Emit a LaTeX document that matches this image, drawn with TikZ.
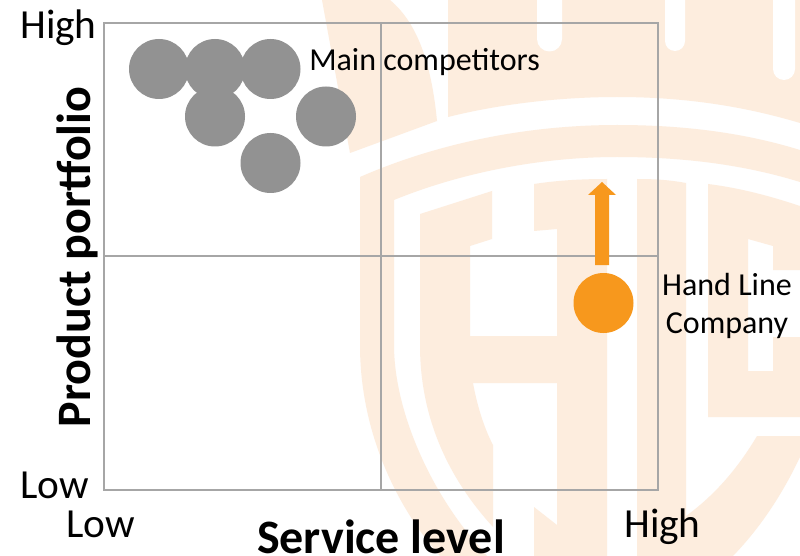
\documentclass[tikz,border=0pt]{standalone}
\usepackage{fontspec}
\setmainfont{Carlito}
\definecolor{wm}{HTML}{FDEDDE}
\definecolor{gridc}{HTML}{A6A6A6}
\definecolor{dotc}{HTML}{929292}
\definecolor{hl}{HTML}{F7981D}
\tikzset{
  gridline/.style={draw=gridc,line width=1.5pt*0.75},
  rival/.style={circle,fill=dotc,minimum size=45pt,inner sep=0pt},
  own/.style={circle,fill=hl,minimum size=45pt,inner sep=0pt},
  lbl/.style={inner sep=0pt,font=\fontsize{24pt}{28pt}\selectfont,text=black},
  tick/.style={inner sep=0pt,font=\fontsize{31pt}{34pt}\selectfont,text=black},
  axis/.style={inner sep=0pt,font=\fontsize{36pt}{40pt}\selectfont\bfseries,text=black},
  wmk/.style={fill=wm,draw=none},
  wht/.style={fill=white,draw=none}
}
\begin{document}
\begin{tikzpicture}[x=0.75pt,y=-0.75pt]
\useasboundingbox (0,0) rectangle (800,556);
\fill[white] (0,0) rectangle (800,556);
% watermark
\fill[wmk] (322,0) -- (350,153) -- (437,121) .. controls (432,70) and (420,25) .. (390,0) -- cycle;
\fill[wmk] (448,0) -- (448,117) .. controls (500,104) and (560,97) .. (617,97) .. controls (680,97) and (740,105) .. (800,123) -- (800,0) -- cycle;
\fill[wht] (537,0) -- (537,39) arc[start angle=180,end angle=0,radius=12.5] -- (562,0) -- cycle;
\fill[wht] (665,0) -- (665,41) arc[start angle=180,end angle=0,radius=10] -- (685,0) -- cycle;
\fill[wht] (773,0) -- (773,69) arc[start angle=180,end angle=0,radius=11] -- (795,0) -- cycle;
% shield ring
\fill[wmk] (360,177) .. controls (440,142) and (530,125) .. (617,125) .. controls (685,125) and (745,133) .. (800,150) -- (800,182) .. controls (745,165) and (685,157) .. (617,157) .. controls (540,157) and (460,173) .. (394,200) -- (394,345) .. controls (394,400) and (420,470) .. (463,527) -- (487,556) -- (440,556) .. controls (395,505) and (360,430) .. (360,345) -- cycle;
% H
\fill[wmk] (420,214) -- (492,191) -- (492,239) -- (470,246) -- (470,336) -- (557,336) -- (557,229) -- (534,231) -- (534,184) .. controls (560,180) and (585,179) .. (607,179) -- (607,556) -- (534,556) -- (534,507) -- (557,525) -- (557,383) -- (473,383) .. controls (477,405) and (484,428) .. (493,445) -- (493,527) .. controls (450,480) and (420,420) .. (420,345) -- cycle;
% column
\fill[wmk] (637,179) .. controls (655,179) and (670,180) .. (686,183) -- (686,556) -- (637,556) -- cycle;
% G
\fill[wmk] (708,184) .. controls (740,188) and (770,196) .. (800,206) -- (800,270) -- (773,270) -- (773,246) -- (748,239) -- (748,371) -- (773,371) -- (773,337) -- (800,337) -- (800,417) -- (708,417) -- cycle;
% lower right arc
\fill[wmk] (686,516) .. controls (715,495) and (738,468) .. (757,436) -- (800,436) -- (800,457) .. controls (782,495) and (760,528) .. (733,556) -- (686,556) -- cycle;
% grid
\coordinate (tl) at (104,23);
\coordinate (tr) at (658,23);
\coordinate (bl) at (104,490);
\coordinate (br) at (658,490);
\coordinate (tm) at (381,23);
\coordinate (bm) at (381,490);
\coordinate (lm) at (104,256);
\coordinate (rm) at (658,256);
\draw[gridline] (tl) rectangle (br);
\draw[gridline] (tm) -- (bm);
\draw[gridline] (lm) -- (rm);
% circles
\node[rival] (a) at (159,69) {};
\node[rival] (d) at (215,116.5) {};
\node[rival] (b) at (215,69) {};
\node[rival] (c) at (270.5,69) {};
\node[rival] (e) at (326,116.5) {};
\node[rival] (f) at (270.5,163) {};
\node[own] (own) at (603.5,303) {};
% arrow
\fill[hl] (595,265) -- (595,195) -- (588,195) -- (602,182) -- (616,195) -- (609,195) -- (609,265) -- cycle;
% labels
\node[lbl,anchor=base west] (mc) at (309,71) {Main competitors};
\node[lbl,anchor=base] (hl1) at (727,296) {Hand Line};
\node[lbl,anchor=base] (hl2) at (727,333) {Company};
\node[tick,anchor=base west] (yh) at (20,39) {High};
\node[tick,anchor=base west] (yl) at (20,498) {Low};
\node[tick,anchor=base west] (xl) at (66,537) {Low};
\node[tick,anchor=base west] (xh) at (624,537) {High};
\node[axis,anchor=base] (xa) at (381,553.5) {Service level};
\node[axis,anchor=base,rotate=90] (ya) at (90,257) {Product portfolio};
\end{tikzpicture}
\end{document}
